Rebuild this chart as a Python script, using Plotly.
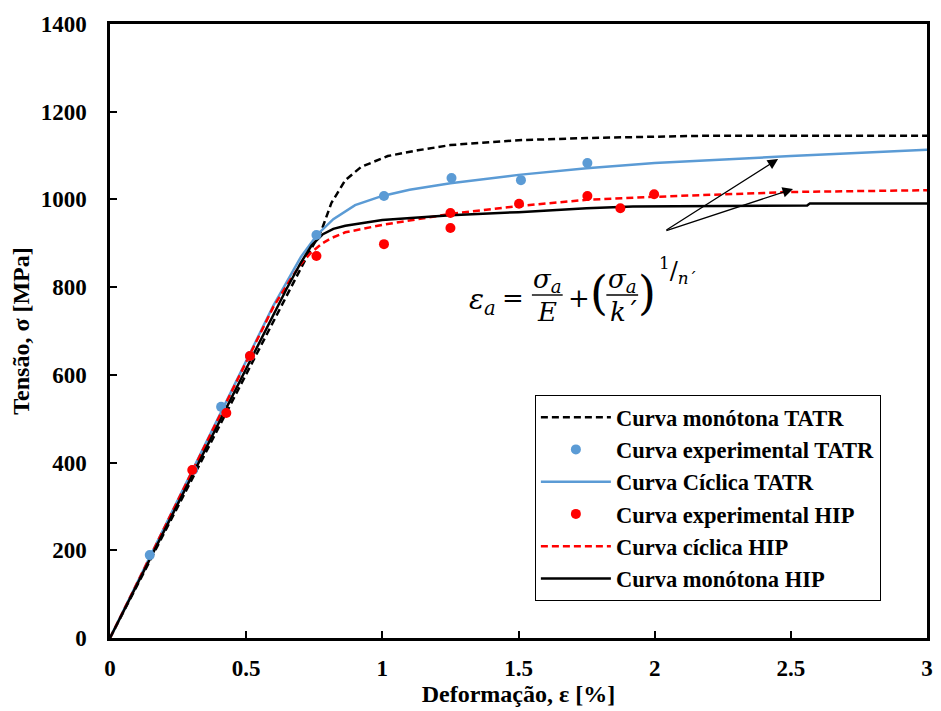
import plotly.graph_objects as go

# ---------------- data ----------------
mono_tatr_x = [0, 0.2, 0.4, 0.6, 0.72, 0.777, 0.813, 0.864, 0.922, 1.02, 1.13, 1.25, 1.5, 1.75, 2.0, 2.17, 2.5, 3.0]
mono_tatr_y = [0, 240, 480, 720, 866, 930, 992, 1044, 1074, 1099, 1112, 1124, 1135, 1140, 1142, 1145, 1145, 1145]

exp_tatr_x = [0.146, 0.305, 0.408, 0.514, 0.758, 1.006, 1.254, 1.509, 1.753]
exp_tatr_y = [189, 383, 527, 643, 919, 1008, 1049, 1044, 1083]

cyc_tatr_x = [0, 0.2, 0.4, 0.6, 0.7, 0.76, 0.82, 0.9, 1.0, 1.1, 1.25, 1.5, 1.75, 2.0, 2.5, 3.0]
cyc_tatr_y = [0, 252, 505, 758, 868, 919, 955, 987, 1008, 1022, 1037, 1056, 1071, 1083, 1099, 1113]

exp_hip_x = [0.302, 0.427, 0.514, 0.758, 1.006, 1.25, 1.25, 1.502, 1.753, 1.874, 1.998]
exp_hip_y = [383, 513, 643, 871, 898, 935, 969, 990, 1008, 980, 1012]

cyc_hip_x = [0, 0.2, 0.4, 0.6, 0.66, 0.7, 0.74, 0.78, 0.813, 0.864, 1.0, 1.25, 1.5, 1.75, 2.0, 2.5, 3.0]
cyc_hip_y = [0, 252, 505, 755, 815, 852, 880, 900, 912, 925, 942, 967, 985, 999, 1006, 1017, 1021]

mono_hip_x = [0, 0.2, 0.4, 0.6, 0.65, 0.7, 0.74, 0.78, 0.82, 0.864, 1.0, 1.25, 1.5, 1.75, 1.92, 2.56, 2.57, 3.0]
mono_hip_y = [0, 246, 492, 738, 798, 855, 895, 920, 933, 940, 953, 964, 971, 980, 984, 986, 991, 991]

x_ticks = [0, 0.5, 1, 1.5, 2, 2.5, 3]
x_tick_labels = ["0", "0.5", "1", "1.5", "2", "2.5", "3"]
y_ticks = [0, 200, 400, 600, 800, 1000, 1200, 1400]
y_tick_labels = ["0", "200", "400", "600", "800", "1000", "1200", "1400"]

BLUE = "#5B9BD5"
RED = "#FF0000"
FONT = "Times New Roman, Liberation Serif, serif"

fig = go.Figure()
fig.add_trace(go.Scatter(x=mono_tatr_x, y=mono_tatr_y, mode="lines", name="Curva monótona TATR",
                         line=dict(color="black", width=2.5, dash="7px,4px"), legendrank=1))
fig.add_trace(go.Scatter(x=cyc_tatr_x, y=cyc_tatr_y, mode="lines", name="Curva Cíclica TATR",
                         line=dict(color=BLUE, width=2.5), legendrank=3))
fig.add_trace(go.Scatter(x=cyc_hip_x, y=cyc_hip_y, mode="lines", name="Curva cíclica HIP",
                         line=dict(color=RED, width=2.5, dash="7px,4px"), legendrank=5))
fig.add_trace(go.Scatter(x=mono_hip_x, y=mono_hip_y, mode="lines", name="Curva monótona HIP",
                         line=dict(color="black", width=2.5), legendrank=6))
fig.add_trace(go.Scatter(x=exp_tatr_x, y=exp_tatr_y, mode="markers", name="Curva experimental TATR",
                         marker=dict(color=BLUE, size=10), legendrank=2))
fig.add_trace(go.Scatter(x=exp_hip_x, y=exp_hip_y, mode="markers", name="Curva experimental HIP",
                         marker=dict(color=RED, size=10), legendrank=4))

# plot-area pixel geometry helpers (for annotation placement)
L, R, T, B = 110, 933, 24, 638
def dx(px):
    return (px - L) / (R - L) * 3.0
def dy(py):
    return (B - py) / (B - T) * 1400.0

# arrows
for tip in [(783, 159), (798, 189)]:
    fig.add_annotation(x=dx(tip[0]), y=dy(tip[1]), ax=dx(669), ay=dy(231),
                       xref="x", yref="y", axref="x", ayref="y", text="",
                       showarrow=True, arrowhead=2, arrowsize=1.6, arrowwidth=1.3, arrowcolor="black")

# equation pieces
EQ = "DejaVu Serif"
def txt(s, px, py, size):
    fig.add_annotation(x=dx(px), y=dy(py), xref="x", yref="y", text=s, showarrow=False,
                       xanchor="center", yanchor="middle",
                       font=dict(family=EQ, size=size, color="black"))

txt("<i>ε<sub>a</sub></i>", 485, 301, 28)
txt("=", 516, 298, 26)
txt("<i>σ<sub>a</sub></i>", 551, 280, 26)
txt("<i>E</i>", 550, 312, 26)
txt("+", 582, 298, 26)
txt("(", 603, 293, 46)
txt("<i>σ<sub>a</sub></i>", 626, 280, 26)
txt("<i>k</i>´", 628, 312, 26)
txt(")", 651, 293, 46)
txt("<sup>1</sup>/<sub><i>n</i>´</sub>", 682, 270, 24)
for x0, x1 in [(535, 566), (610, 642)]:
    fig.add_shape(type="line", x0=dx(x0), x1=dx(x1), y0=dy(295), y1=dy(295),
                  xref="x", yref="y", line=dict(color="black", width=1.4))

fig.update_xaxes(range=[0, 3], tickvals=x_ticks, ticktext=x_tick_labels,
                 ticks="inside", ticklen=7, tickwidth=2, tickcolor="black",
                 showline=True, linewidth=2.5, linecolor="black", mirror=True,
                 showgrid=False, zeroline=False, ticklabelstandoff=8,
                 tickfont=dict(family=FONT, size=23, color="black", weight="bold"),
                 title=dict(text="<b>Deformação, ε [%]</b>", font=dict(family=FONT, size=24, color="black"),
                            standoff=4))
fig.update_yaxes(range=[0, 1400], tickvals=y_ticks, ticktext=y_tick_labels,
                 ticks="inside", ticklen=7, tickwidth=2, tickcolor="black",
                 showline=True, linewidth=2.5, linecolor="black", mirror=True,
                 showgrid=False, zeroline=False, ticklabelstandoff=16,
                 tickfont=dict(family=FONT, size=23, color="black", weight="bold"),
                 title=dict(text="<b>Tensão, σ [MPa]</b>", font=dict(family=FONT, size=24, color="black"),
                            standoff=5))

fig.update_layout(
    width=941, height=711,
    margin=dict(l=L, r=941 - R, t=T, b=711 - B, pad=0),
    paper_bgcolor="white", plot_bgcolor="white",
    showlegend=True,
    legend=dict(x=(538 - L) / (R - L), y=(B - 395) / (B - T), xanchor="left", yanchor="top",
                bordercolor="black", borderwidth=1, bgcolor="white",
                font=dict(family=FONT, size=22.5, color="black", weight="bold"),
                itemwidth=70, tracegroupgap=0),
)

fig.write_html("out.html")
